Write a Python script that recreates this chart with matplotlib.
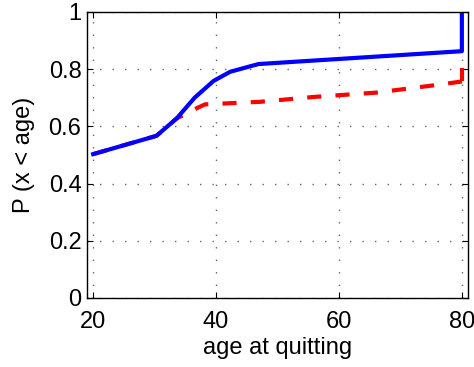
import matplotlib
matplotlib.use("Agg")
import matplotlib.pyplot as plt

blue_age = [20, 30.3, 33.6, 36.5, 39.6, 42.3, 46.9, 80, 80]
blue_p = [0.503, 0.567, 0.628, 0.70, 0.759, 0.791, 0.818, 0.863, 1.0]

red_age = [20, 30.3, 33.6, 37.0, 38.2, 47.2, 55.9, 66, 75.2, 80, 80]
red_p = [0.503, 0.567, 0.628, 0.665, 0.677, 0.686, 0.703, 0.718, 0.743, 0.757, 0.803]

xticks = [20, 40, 60, 80]
yticks = [0, 0.2, 0.4, 0.6, 0.8, 1]
ylabels = ["0", "0.2", "0.4", "0.6", "0.8", "1"]

plt.rcParams['font.family'] = ['Liberation Sans', 'DejaVu Sans']

fig = plt.figure(figsize=(4.74, 3.67), dpi=100)
ax = fig.add_axes([87/474, 1-298/367, (468-87)/474, (298-12)/367])
ax.plot(red_age[:-1], red_p[:-1], color="#ff0000", lw=3, ls=(0, (3.4, 3.4)))
ax.plot(red_age[-2:], red_p[-2:], color="#ff0000", lw=3, solid_capstyle="butt")
ax.plot(blue_age, blue_p, color="#0000ff", lw=3)
ax.set_xlim(19, 81)
ax.set_ylim(0, 1)
ax.set_xticks(xticks)
ax.set_yticks(yticks)
ax.set_yticklabels(ylabels)
ax.tick_params(direction="in", top=True, right=True, labelsize=17, length=4, width=0.8)
ax.tick_params(axis='x', pad=9)
ax.tick_params(axis='y', pad=4)
ax.grid(True, ls=(0, (1, 8)), color="#666666", lw=1.0)
for s in ax.spines.values():
    s.set_linewidth(1.0)
ax.set_xlabel("age at quitting", fontsize=17, labelpad=3)
ax.set_ylabel("P (x < age)", fontsize=17, labelpad=10)
fig.savefig("out.png", dpi=100)
